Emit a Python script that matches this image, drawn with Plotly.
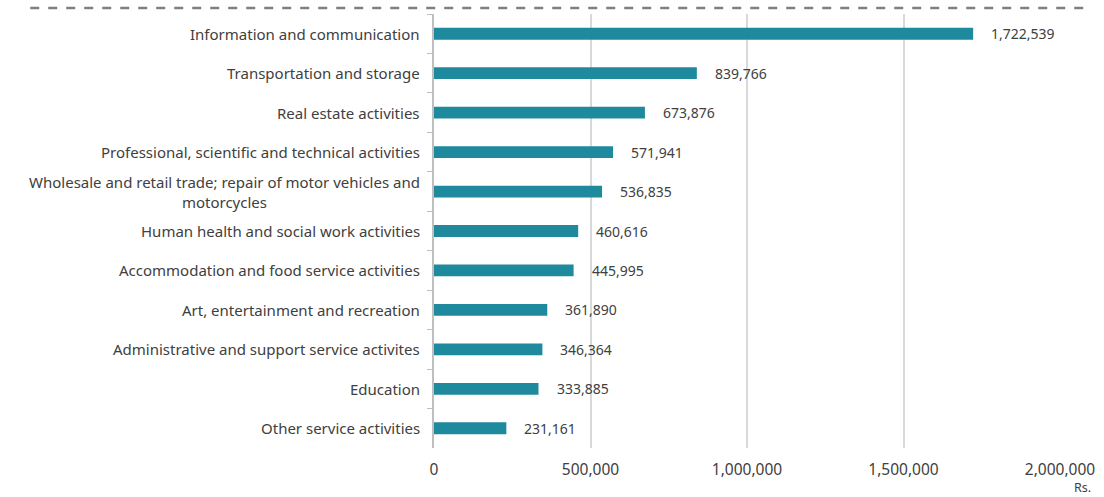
import plotly.graph_objects as go

# Sector names (top to bottom) and their values in Rs.
sectors = [
    "Information and communication",
    "Transportation and storage",
    "Real estate activities",
    "Professional, scientific and technical activities",
    "Wholesale and retail trade; repair of motor vehicles and<br>motorcycles",
    "Human health and social work activities",
    "Accommodation and food service activities",
    "Art, entertainment and recreation",
    "Administrative and support service activites",
    "Education",
    "Other service activities",
]
values = [1722539, 839766, 673876, 571941, 536835, 460616, 445995, 361890, 346364, 333885, 231161]
x_ticks = [0, 500000, 1000000, 1500000, 2000000]
x_tick_labels = ["0", "500,000", "1,000,000", "1,500,000", "2,000,000"]

FONT = "Noto Sans"
TEXT = "#404040"
BAR = "#1F8A9E"

fig = go.Figure(
    go.Bar(
        x=values,
        y=sectors,
        orientation="h",
        marker=dict(color=BAR, line=dict(width=0)),
        width=0.3,
        hoverinfo="x+y",
    )
)

# value labels to the right of each bar
for s, v in zip(sectors, values):
    fig.add_annotation(
        x=v, y=s, text=f"{v:,}", showarrow=False,
        xanchor="left", xshift=16,
        font=dict(family=FONT, size=14, color=TEXT),
    )

# category labels, centred lines for wrapped text
for s in sectors:
    fig.add_annotation(
        x=0, y=s, xref="x", text=s, showarrow=False,
        xanchor="right", xshift=-12, align="center",
        font=dict(family=FONT, size=15, color=TEXT),
    )

# dashed rule along the top
fig.add_shape(
    type="line", xref="paper", yref="paper",
    x0=-0.645, x1=1.048, y0=1.014, y1=1.014,
    line=dict(color="#808080", width=2.5, dash="dash"),
)

fig.update_layout(
    width=1104,
    height=497,
    margin=dict(l=434, r=44, t=14, b=49, autoexpand=False),
    paper_bgcolor="white",
    plot_bgcolor="white",
    showlegend=False,
    bargap=0.7,
    font=dict(family=FONT, size=14, color=TEXT),
    xaxis=dict(
        range=[0, 2000000],
        tickvals=x_ticks,
        ticktext=x_tick_labels,
        showgrid=True,
        gridcolor="#D9D9D9",
        gridwidth=2,
        zeroline=False,
        showline=False,
        ticks="",
        ticklen=0,
        ticklabelstandoff=10,
        automargin=False,
        tickfont=dict(family=FONT, size=15.5, color=TEXT),
    ),
    yaxis=dict(
        autorange="reversed",
        showticklabels=False,
        showline=True,
        linecolor="#BFBFBF",
        linewidth=1.5,
        ticks="outside",
        tickson="boundaries",
        ticklen=5,
        tickcolor="#BFBFBF",
        showgrid=False,
        automargin=False,
    ),
)

fig.add_annotation(
    x=1.053, y=-0.092, xref="paper", yref="paper",
    text="Rs.", showarrow=False, xanchor="right", yanchor="middle",
    font=dict(family=FONT, size=12.5, color=TEXT),
)

fig.write_html("out.html")
